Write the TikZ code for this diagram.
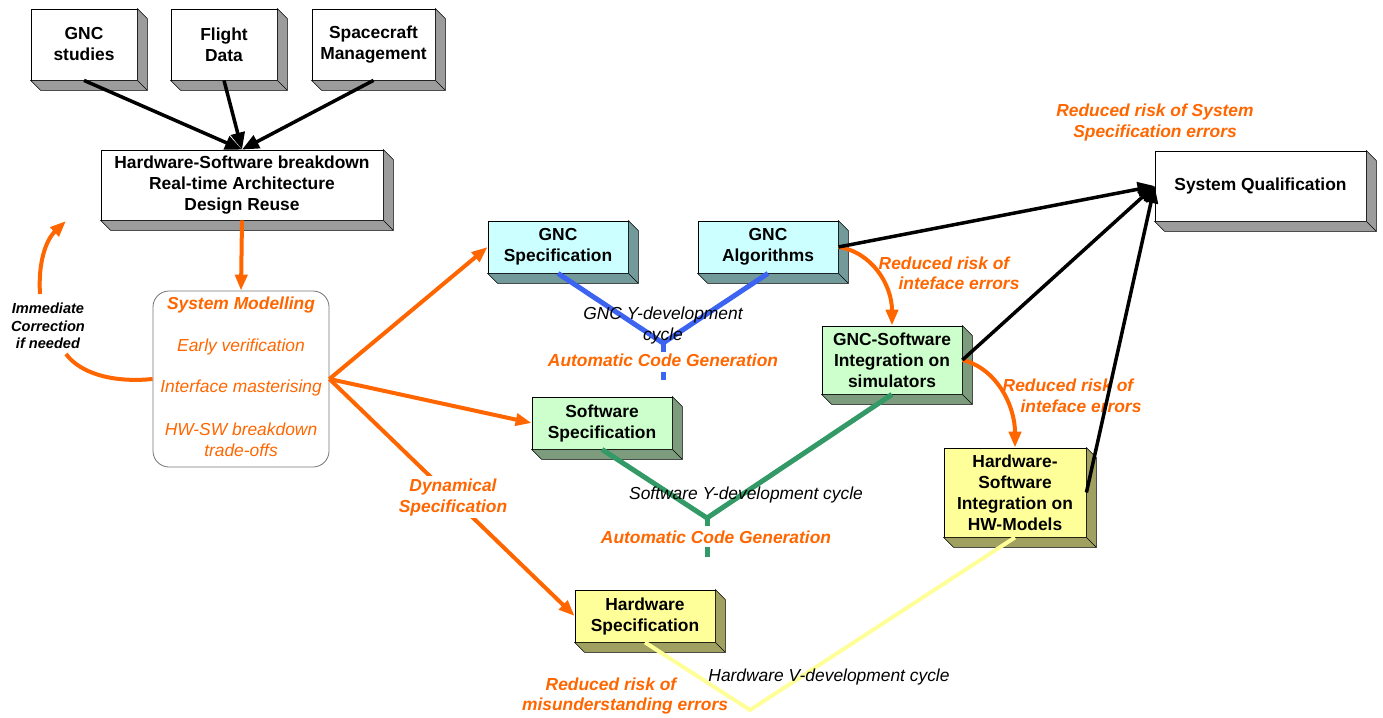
\documentclass[tikz,border=0pt]{standalone}
\usepackage{fontspec}
\setmainfont{Liberation Sans}
\usetikzlibrary{arrows.meta,calc}
\definecolor{orng}{HTML}{FF6600}
\definecolor{sideW}{HTML}{9C9C9C}
\definecolor{cyanF}{HTML}{CCFFFF}
\definecolor{cyanS}{HTML}{729A9A}
\definecolor{greenF}{HTML}{CCFFCC}
\definecolor{greenS}{HTML}{7D9C7D}
\definecolor{yelF}{HTML}{FFFF99}
\definecolor{yelS}{HTML}{A0A060}
\definecolor{blueL}{HTML}{3C64F0}
\definecolor{greenL}{HTML}{339966}
\definecolor{yelL}{HTML}{FFFF99}
\tikzset{
  box/.style={draw=black, line width=0.8pt, inner sep=0pt, align=center,
    font=\fontsize{17.4}{21}\selectfont\bfseries},
  sysbox/.style={draw=black!55, line width=0.8pt, rounded corners=16pt, inner sep=0pt},
  orangebi/.style={text=orng, inner sep=0pt, align=center,
    font=\fontsize{17.4}{21}\selectfont\bfseries\itshape},
  orangei/.style={text=orng, inner sep=0pt, align=center,
    font=\fontsize{17.4}{21}\selectfont\itshape},
  blacki/.style={text=black, inner sep=0pt, align=center,
    font=\fontsize{17.4}{21}\selectfont\itshape},
  blackbi/.style={text=black, inner sep=0pt, align=center,
    font=\fontsize{14.6}{17.5}\selectfont\bfseries\itshape},
  blk/.style={draw=black, line width=3.5pt, -{Triangle[length=17pt,width=14pt]}},
  orarrow/.style={draw=orng, line width=4pt, -{Triangle[length=16pt,width=12pt]}},
  orline/.style={draw=orng, line width=4pt},
  bluel/.style={draw=blueL, line width=5pt},
  greenl/.style={draw=greenL, line width=5pt},
  yell/.style={draw=yelL, line width=4pt},
}
\newcommand\tdbox[8]{%
  \node[box, fill=#6, minimum width=#4pt, minimum height=#5pt] (#1) at (#2,#3) {#8};
  \filldraw[fill=#7, draw=black, line width=0.6pt] (#1.north east) -- ++(10,10)
     -- ($(#1.south east)+(10,10)$) -- ($(#1.south west)+(10,10)$)
     -- (#1.south west) -- (#1.south east) -- cycle;
  \draw[line width=0.6pt] (#1.south east) -- ++(10,10);
}
\begin{document}
\begin{tikzpicture}[x=1pt,y=-1pt]
\useasboundingbox (0,0) rectangle (1383,717);
% boxes
\tdbox{gncst}{84}{44.5}{106}{71}{white}{sideW}{GNC\\studies}
\tdbox{flight}{224}{44.5}{106}{71}{white}{sideW}{Flight\\Data}
\tdbox{scm}{373.5}{44.5}{123}{71}{white}{sideW}{Spacecraft\\Management}
\tdbox{hwsw}{242}{185}{282}{70}{white}{sideW}{Hardware-Software breakdown\\Real-time Architecture\\Design Reuse}
\tdbox{gncspec}{558}{247}{140}{52}{cyanF}{cyanS}{GNC\\Specification}
\tdbox{gncalgo}{768}{247}{140}{52}{cyanF}{cyanS}{GNC\\Algorithms}
\tdbox{swspec}{602}{423}{140}{52}{greenF}{greenS}{Software\\Specification}
\tdbox{gncsw}{892}{360}{140}{68}{greenF}{greenS}{GNC-Software\\Integration on\\simulators}
\tdbox{hwspec}{645}{616}{140}{52}{yelF}{yelS}{Hardware\\Specification}
\tdbox{hwswint}{1015}{492.5}{142}{89}{yelF}{yelS}{Hardware-\\Software\\Integration on\\HW-Models}
\tdbox{sysqual}{1260.5}{186}{211}{70}{white}{sideW}{System Qualification}
% system modelling
\node[sysbox, minimum width=176pt, minimum height=176pt] (sysmod) at (241,379) {};
\node[orangebi] (smt) at (241,305) {System Modelling};
\node[orangei] (ev) at (241,347) {Early verification};
\node[orangei] (im) at (241,388) {Interface masterising};
\node[orangei] (hwt) at (241,440) {HW-SW breakdown\\trade-offs};
% Y / V development lines
\coordinate (gy) at (663,343);
\coordinate (gy1) at (663,352);
\coordinate (gy2) at (663,372);
\coordinate (gy3) at (663,380);
\draw[bluel] (gncspec.south) -- (gy) -- (gncalgo.south);
\draw[bluel] (gy) -- (gy1);
\draw[bluel] (gy2) -- (gy3);
\coordinate (sy) at (707,518);
\coordinate (sy1) at (707,526);
\coordinate (sy2) at (707,547);
\coordinate (sy3) at (707,557);
\draw[greenl] (swspec.south) -- (sy) -- (gncsw.south);
\draw[greenl] (sy) -- (sy1);
\draw[greenl] (sy2) -- (sy3);
\coordinate (hv) at (750,710);
\draw[yell] (hwspec.south) -- (hv) -- (hwswint.south);
\node[blacki] (gyt) at (663,325) {GNC Y-development\\cycle};
\node[orangebi] (acg1) at (663,360) {Automatic Code Generation};
\node[blacki] (syt) at (746,495) {Software Y-development cycle};
\node[orangebi] (acg2) at (716,537) {Automatic Code Generation};
\node[blacki] (hvt) at (829,677) {Hardware V-development cycle};
\node[orangebi] (rr3a) at (611,684) {Reduced risk of};
\node[orangebi] (rr3b) at (625,706) {misunderstanding errors};
% top black arrows
\draw[blk] (gncst.south) -- (hwsw.north);
\draw[blk] (flight.south) -- (hwsw.north);
\draw[blk] (scm.south) -- (hwsw.north);
% orange arrows
\draw[orarrow] (hwsw.south) -- (sysmod.north);
\draw[orarrow] (sysmod.east) -- (gncspec.west);
\draw[orarrow] (sysmod.east) -- (swspec.west);
\draw[orarrow] (sysmod.east) -- (hwspec.west);
\node[orangebi, fill=white, inner sep=2pt] (dyn) at (453,497) {Dynamical\\Specification};
% immediate correction
\coordinate (ic1) at (66,354);
\coordinate (ic2) at (40,294);
\coordinate (ic3) at (66,221);
\draw[orline] (sysmod.west) .. controls (112,383) and (80,373) .. (ic1);
\draw[orarrow] (ic2) .. controls (38,262) and (46,240) .. (ic3);
\node[blackbi] (ict) at (48,326) {Immediate\\Correction\\if needed};
% reduced risk labels
\node[orangebi] (rr1a) at (944,263) {Reduced risk of};
\node[orangebi] (rr1b) at (959,283) {inteface errors};
\node[orangebi] (rr2a) at (1068,385) {Reduced risk of};
\node[orangebi] (rr2b) at (1081,406) {inteface errors};
\node[orangebi] (rrs) at (1155,123) {Reduced risk of System\\Specification errors};
\draw[orarrow] (gncalgo.east) .. controls (872,252) and (892,285) .. (gncsw.north);
\draw[orarrow] (gncsw.east) .. controls (996,368) and (1015,405) .. (hwswint.north);
% black arrows to system qualification
\draw[blk] (gncalgo.east) -- (sysqual.west);
\draw[blk] (gncsw.east) -- (sysqual.west);
\draw[blk] (hwswint.east) -- (sysqual.west);
\end{tikzpicture}
\end{document}
